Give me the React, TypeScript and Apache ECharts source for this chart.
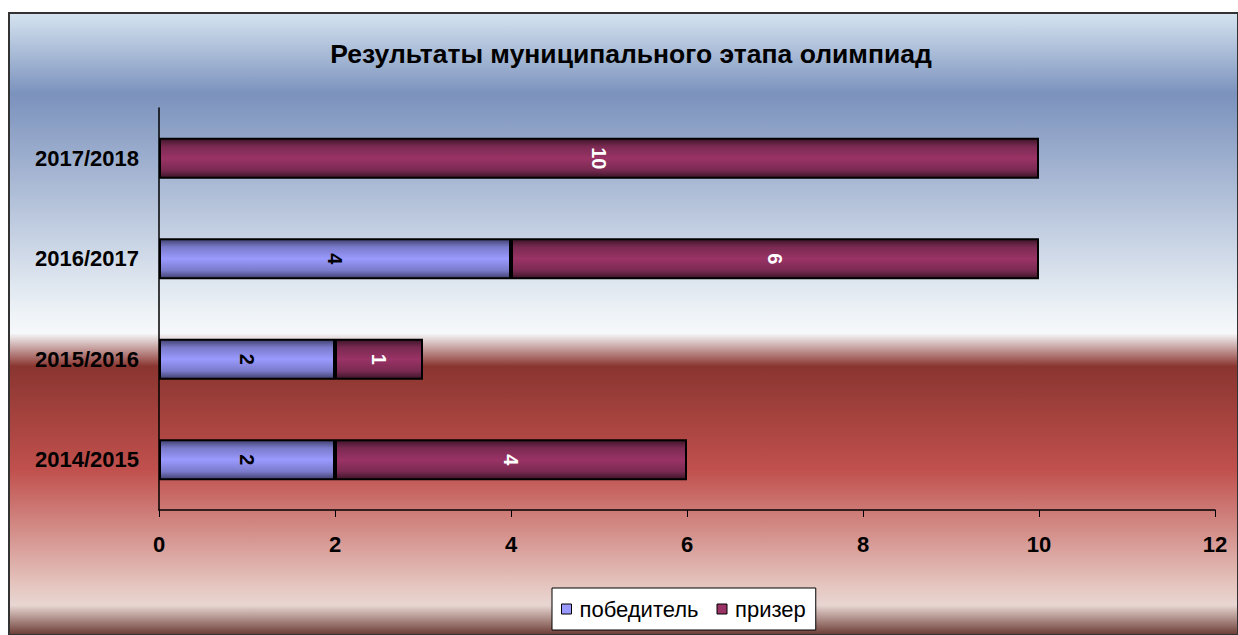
import React, { useEffect, useRef } from "react";
import * as echarts from "echarts";

const categories = ["2014/2015", "2015/2016", "2016/2017", "2017/2018"];
const winners: (number | null)[] = [2, 2, 4, null];
const prizeWinners = [4, 1, 6, 10];
const xTicks = [0, 2, 4, 6, 8, 10, 12];
const titleText = "Результаты муниципального этапа олимпиад";
const seriesNames = ["победитель", "призер"];

const FONT = "'Liberation Sans', Arial, sans-serif";

export default function App() {
  const ref = useRef<HTMLDivElement>(null);
  useEffect(() => {
    if (!ref.current) return;
    const chart = echarts.init(ref.current, undefined, { renderer: "svg" });
    const band = (dark: string, mid: string, bright: string) =>
      new echarts.graphic.LinearGradient(0, 0, 0, 1, [
        { offset: 0, color: dark },
        { offset: 0.2, color: mid },
        { offset: 0.5, color: bright },
        { offset: 0.8, color: mid },
        { offset: 1, color: dark },
      ]);
    chart.setOption({
      animation: false,
      textStyle: { fontFamily: FONT },
      graphic: [
        {
          type: "rect",
          z: -10,
          shape: { x: 9, y: 13, width: 1229, height: 622 },
          style: {
            fill: new echarts.graphic.LinearGradient(0, 0, 0, 1, [
              { offset: 0, color: "#d6e4f0" },
              { offset: 0.13, color: "#7b92bd" },
              { offset: 0.483, color: "#eef3f7" },
              { offset: 0.515, color: "#f6f8fa" },
              { offset: 0.568, color: "#8a3530" },
              { offset: 0.734, color: "#c0504d" },
              { offset: 0.925, color: "#e6c8c2" },
              { offset: 0.952, color: "#e8d6d2" },
              { offset: 1, color: "#6a3a33" },
            ]),
            stroke: "#333",
            lineWidth: 2,
          },
        },
        {
          type: "text",
          x: 631,
          y: 54,
          style: {
            text: titleText,
            font: `bold 26.5px ${FONT}`,
            fill: "#000",
            textAlign: "center",
            textVerticalAlign: "middle",
          },
        },
      ],
      grid: { left: 159, right: 23, top: 108, bottom: 125 },
      xAxis: {
        type: "value",
        min: 0,
        max: 12,
        interval: 2,
        axisLine: { show: true, lineStyle: { color: "#000", width: 1.5 } },
        axisTick: { show: true, length: 7, lineStyle: { color: "#000" } },
        splitLine: { show: false },
        axisLabel: {
          fontSize: 22,
          fontWeight: "bold",
          color: "#000",
          margin: 23,
          formatter: (v: number) => (xTicks.includes(v) ? String(v) : ""),
        },
      },
      yAxis: {
        type: "category",
        data: categories,
        axisLine: { show: true, lineStyle: { color: "#000", width: 1.5 } },
        axisTick: { show: false },
        axisLabel: { fontSize: 22, fontWeight: "bold", color: "#000", margin: 20 },
      },
      legend: {
        left: 552,
        top: 588,
        backgroundColor: "#fff",
        borderColor: "#000",
        borderWidth: 1,
        borderRadius: 0,
        padding: [10, 10, 10, 9],
        itemWidth: 10,
        itemHeight: 10,
        itemGap: 18,
        icon: "rect",
        textStyle: { fontSize: 22, color: "#000", fontFamily: FONT, padding: [0, 0, 0, 3] },
        data: [
          { name: seriesNames[0], itemStyle: { color: "#9999ff", borderColor: "#000", borderWidth: 1 } },
          { name: seriesNames[1], itemStyle: { color: "#993366", borderColor: "#000", borderWidth: 1 } },
        ],
      },
      series: [
        {
          name: seriesNames[0],
          type: "bar",
          stack: "total",
          barWidth: 41,
          data: winners,
          itemStyle: {
            color: band("#40406e", "#7a7acb", "#9a9aff"),
            borderColor: "#000",
            borderWidth: 2,
          },
          label: {
            show: true,
            position: "inside",
            rotate: -90,
            fontSize: 20,
            fontWeight: "bold",
            color: "#000",
          },
        },
        {
          name: seriesNames[1],
          type: "bar",
          stack: "total",
          barWidth: 41,
          data: prizeWinners,
          itemStyle: {
            color: band("#3d1528", "#7a2a52", "#9a3366"),
            borderColor: "#000",
            borderWidth: 2,
          },
          label: {
            show: true,
            position: "inside",
            rotate: -90,
            fontSize: 20,
            fontWeight: "bold",
            color: "#fff",
          },
        },
      ],
    });
    return () => chart.dispose();
  }, []);
  return (
    <div
      ref={ref}
      style={{ position: "absolute", left: 0, top: 0, width: 1238, height: 635 }}
    />
  );
}
